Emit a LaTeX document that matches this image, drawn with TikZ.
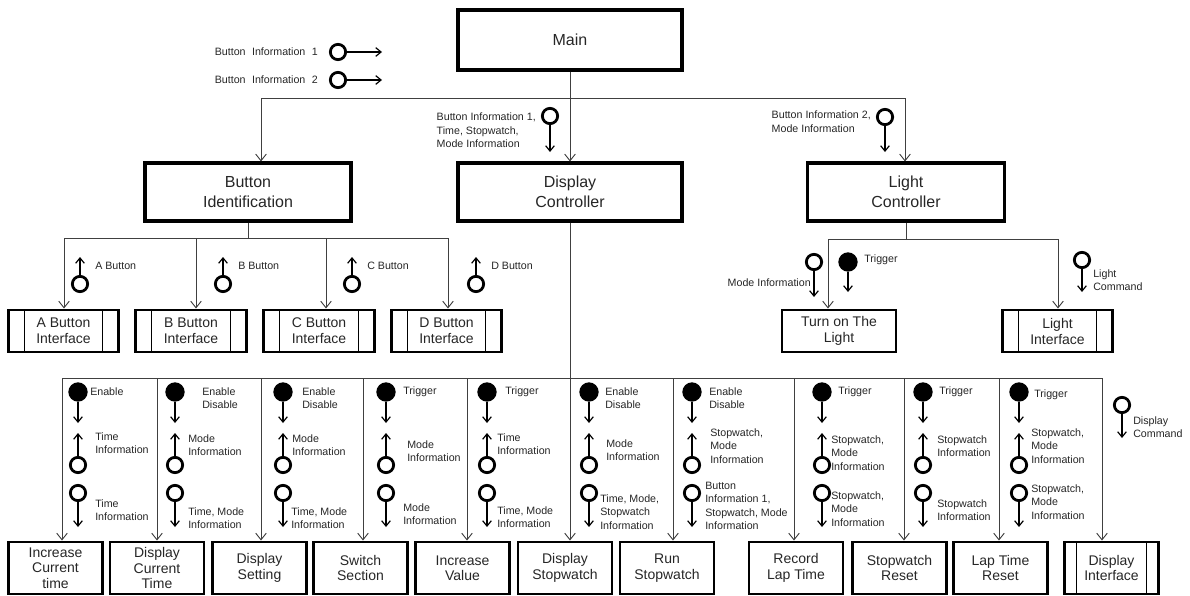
\documentclass[tikz,border=0pt]{standalone}
\usepackage{fontspec}
\setmainfont{Liberation Sans}
\usepackage{tikz}
\usetikzlibrary{arrows.meta, positioning, calc}

\begin{document}
\begin{tikzpicture}[x=0.75pt, y=-0.75pt,
  >={Straight Barb[length=5pt,width=8pt]},
  modbox/.style={draw, line width=2.3pt, align=center, inner sep=0pt, text=black!85, minimum height=43.5pt, font=\fontsize{12}{15}\selectfont},
  leaf/.style={draw, line width=2.2pt, align=center, inner sep=0pt, text=black!85},
  ifleaf/.style={leaf, path picture={
    \draw[line width=0.6pt] ([xshift=#1]path picture bounding box.north west) -- ([xshift=#1]path picture bounding box.south west)
      ([xshift=-#1]path picture bounding box.north east) -- ([xshift=-#1]path picture bounding box.south east);}},
  ifleaf/.default=12pt,
  midsz/.style={minimum width=83pt, minimum height=31.5pt, font=\fontsize{10.5}{12}\selectfont},
  lowsz/.style={minimum width=70.5pt, minimum height=39pt, font=\fontsize{10.5}{11.6}\selectfont},
  wire/.style={line width=0.7pt, draw=black!75},
  dcpl/.style={circle, draw, line width=2.1pt, minimum size=11.5pt, inner sep=0pt},
  fcpl/.style={circle, fill, minimum size=14.5pt, inner sep=0pt},
  flow/.style={line width=0.9pt, ->, >={Straight Barb[length=4pt,width=6.5pt]}},
  cname/.style={inner sep=0pt, align=left, text=black!85, font=\fontsize{8}{10}\selectfont}]
\useasboundingbox (0,0) rectangle (1190,596);

\node[modbox, minimum width=168pt, minimum height=45pt] (main) at (570,40) {Main};
\node[modbox, minimum width=154.5pt] (bid) at (248,192) {Button\\Identification};
\node[modbox, minimum width=168pt] (dc) at (570,192) {Display\\Controller};
\node[modbox, minimum width=148pt] (lc) at (906,192) {Light\\Controller};

\node[ifleaf, midsz] (aif) at (63.5,331) {A Button\\Interface};
\node[ifleaf, midsz] (bif) at (191,331) {B Button\\Interface};
\node[ifleaf, midsz] (cif) at (319,331) {C Button\\Interface};
\node[ifleaf, midsz] (dif) at (446.5,331) {D Button\\Interface};
\node[leaf, midsz, minimum width=85.5pt] (tol) at (839,331) {Turn on The\\Light};
\node[ifleaf, midsz] (lif) at (1057.5,331) {Light\\Interface};

\node[leaf, lowsz] (ict) at (55.5,568) {Increase\\Current\\time};
\node[leaf, lowsz] (dct) at (157,568) {Display\\Current\\Time};
\node[leaf, lowsz] (dset) at (259.5,568) {Display\\Setting};
\node[leaf, lowsz] (sws) at (360.5,568) {Switch\\Section};
\node[leaf, lowsz] (iv) at (462.5,568) {Increase\\Value};
\node[leaf, lowsz] (dsw) at (565,568) {Display\\Stopwatch};
\node[leaf, lowsz] (rsw) at (667,568) {Run\\Stopwatch};
\node[leaf, lowsz] (rlt) at (796,568) {Record\\Lap Time};
\node[leaf, lowsz] (swr) at (899.5,568) {Stopwatch\\Reset};
\node[leaf, lowsz] (ltr) at (1000.5,568) {Lap Time\\Reset};
\node[ifleaf=9pt, lowsz] (dif2) at (1111.5,568) {Display\\Interface};

\draw[wire, ->] (main.south) -- (dc.north);
\coordinate (tl) at (261,98);
\coordinate (tr) at (905,98);
\draw[wire] (tl) -- (tr);
\draw[wire, ->] (tl) -- (tl |- bid.north);
\draw[wire, ->] (tr) -- (tr |- lc.north);

\coordinate (ba) at (64,238);
\coordinate (bd) at (448,238);
\draw[wire] (bid.south) -- (bid.south |- ba);
\draw[wire] (ba) -- (bd);
\foreach \x/\n in {64/aif,196/bif,326/cif,448/dif}
  \draw[wire, ->] (\x,238) -- (\x,238 |- \n.north);

\coordinate (la) at (828,239);
\coordinate (lb) at (1058,239);
\draw[wire] (lc.south) -- (lc.south |- la);
\draw[wire] (la) -- (lb);
\draw[wire, ->] (la) -- (la |- tol.north);
\draw[wire, ->] (lb) -- (lb |- lif.north);

\coordinate (da) at (62,378);
\coordinate (db) at (1102,378);
\draw[wire, ->] (dc.south) -- (dc.south |- dsw.north);
\draw[wire] (da) -- (db);
\foreach \x/\n in {62/ict,157/dct,261/dset,363/sws,467/iv,673/rsw,794/rlt,904/swr,999/ltr,1102/dif2}
  \draw[wire, ->] (\x,378) -- (\x,378 |- \n.north);

\node[dcpl] (bi1) at (338,52) {};
\node[dcpl] (bi2) at (338,80) {};
\coordinate (bi1-tip) at (382,52);
\coordinate (bi2-tip) at (382,80);
\draw[flow] (bi1) -- (bi1-tip);
\draw[flow] (bi2) -- (bi2-tip);
\node[cname, anchor=east] (bi1t) at (318,52) {Button\hspace{0.6em}Information\hspace{0.6em}1};
\node[cname, anchor=east] (bi2t) at (318,80) {Button\hspace{0.6em}Information\hspace{0.6em}2};

\node[dcpl] (dcin) at (550,116) {};
\coordinate (dcin-tip) at (550,152);
\draw[flow] (dcin) -- (dcin-tip);
\node[cname, anchor=north east] (dcint) at (536,113) {Button Information 1,\\Time, Stopwatch,\\Mode Information};

\node[dcpl] (lcin) at (885,117) {};
\coordinate (lcin-tip) at (885,152);
\draw[flow] (lcin) -- (lcin-tip);
\node[cname, anchor=north east] (lcint) at (871,111) {Button Information 2,\\Mode Information};

\foreach \x/\l/\n in {80/A/ain,223/B/bin,352/C/cin,476/D/din} {
  \node[dcpl] (\n) at (\x,284) {};
  \coordinate (\n-tip) at (\x,257);
  \draw[flow] (\n) -- (\n-tip);
  \node[cname, anchor=west] (\n t) at (\x+15,266) {\l\ Button};
}

\node[dcpl] (lmi) at (814,262) {};
\coordinate (lmi-tip) at (814,297);
\draw[flow] (lmi) -- (lmi-tip);
\node[cname, anchor=east] (lmit) at (811,283) {Mode Information};
\node[fcpl] (ltg) at (848,262) {};
\coordinate (ltg-tip) at (848,292);
\draw[flow] (ltg) -- (ltg-tip);
\node[cname, anchor=west] (ltgt) at (864,260) {Trigger};
\node[dcpl] (lcm) at (1082,260) {};
\coordinate (lcm-tip) at (1082,292);
\draw[flow] (lcm) -- (lcm-tip);
\node[cname, anchor=west] (lcmt) at (1093,280) {Light\\Command};

\foreach \x [count=\i] in {78,175,283,386,487,589,692,822,923,1019} {
  \node[fcpl] (f\i) at (\x,392) {};
  \node[dcpl] (u\i) at (\x,465) {};
  \node[dcpl] (d\i) at (\x,493) {};
  \coordinate (f\i-tip) at (\x,423);
  \coordinate (u\i-tip) at (\x,433);
  \coordinate (d\i-tip) at (\x,527);
  \draw[flow] (f\i) -- (f\i-tip);
  \draw[flow] (u\i) -- (u\i-tip);
  \draw[flow] (d\i) -- (d\i-tip);
}
\node[dcpl] (dcmd) at (1122,405) {};
\coordinate (dcmd-tip) at (1122,438);
\draw[flow] (dcmd) -- (dcmd-tip);

\foreach \x/\y/\t [count=\i] in {
  90/392/Enable, 95/443/{Time\\Information}, 95/510/{Time\\Information},
  202/398/{Enable\\Disable}, 188/445/{Mode\\Information}, 188/518/{Time, Mode\\Information},
  302/398/{Enable\\Disable}, 292/445/{Mode\\Information}, 291/518/{Time, Mode\\Information},
  403/392/Trigger, 407/451/{Mode\\Information}, 403/514/{Mode\\Information},
  505/392/Trigger, 497/444/{Time\\Information}, 497/517/{Time, Mode\\Information},
  605/398/{Enable\\Disable}, 606/450/{Mode\\Information}, 600/512/{Time, Mode,\\Stopwatch\\Information},
  709/398/{Enable\\Disable}, 710/446/{Stopwatch,\\Mode\\Information}, 705/506/{Button\\Information 1,\\Stopwatch, Mode\\Information},
  838/392/Trigger, 831/453/{Stopwatch,\\Mode\\Information}, 831/509/{Stopwatch,\\Mode\\Information},
  939/392/Trigger, 937/446/{Stopwatch\\Information}, 937/510/{Stopwatch\\Information},
  1034/395/Trigger, 1031/446/{Stopwatch,\\Mode\\Information}, 1031/502/{Stopwatch,\\Mode\\Information},
  1133/427/{Display\\Command}}
  \node[cname, anchor=west] (t\i) at (\x,\y) {\t};
\end{tikzpicture}
\end{document}
